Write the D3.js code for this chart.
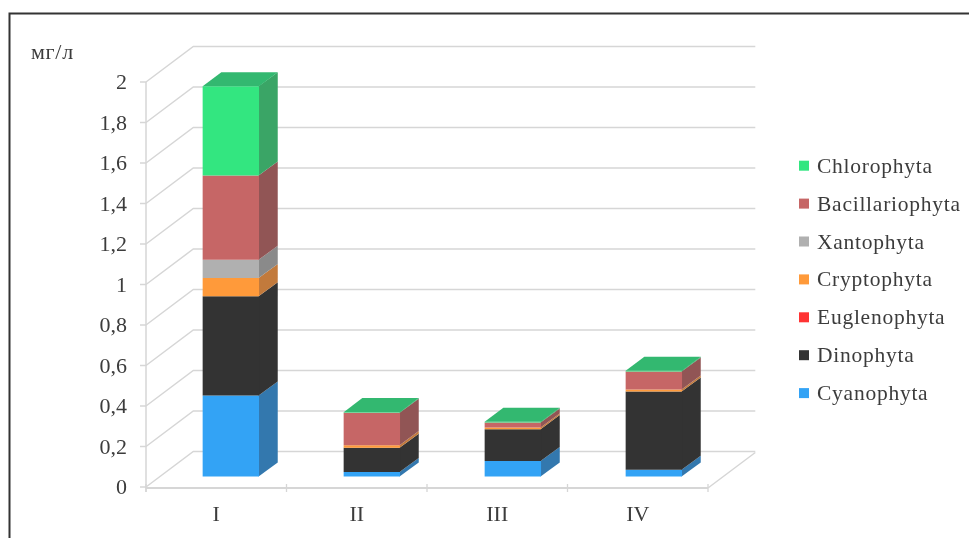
<!DOCTYPE html>
<html><head><meta charset="utf-8">
<script src="https://cdnjs.cloudflare.com/ajax/libs/d3/7.8.5/d3.min.js"></script>
<style>html,body{margin:0;padding:0;background:#fff;overflow:hidden}svg{display:block;filter:blur(0.45px)}text{font-family:"Liberation Serif",serif;fill:#3c3c3c}</style>
</head><body><svg id="c" width="969" height="538"></svg>
<script>
const categories=["I","II","III","IV"];
const yTicks=[0,0.2,0.4,0.6,0.8,1,1.2,1.4,1.6,1.8,2];
const Cyanophyta=[0.40,0.022,0.077,0.033];
const Dinophyta=[0.49,0.12,0.157,0.387];
const Euglenophyta=[0,0,0,0];
const Cryptophyta=[0.09,0.013,0.008,0.01];
const Xantophyta=[0.09,0,0,0];
const Bacillariophyta=[0.417,0.16,0.025,0.089];
const Chlorophyta=[0.44,0.003,0.003,0.003];
const seriesNames=["Cyanophyta","Dinophyta","Euglenophyta","Cryptophyta","Xantophyta","Bacillariophyta","Chlorophyta"];
const seriesValues=[Cyanophyta,Dinophyta,Euglenophyta,Cryptophyta,Xantophyta,Bacillariophyta,Chlorophyta];
const frontColors=["#33a3f5","#333333","#ff3333","#ff9a3a","#b0b0b0","#c66666","#33e680"];
const sideColors=["#3378ae","#333333","#b82c2c","#c27a3c","#8a8a8a","#915555","#3aa566"];
const topColor="#33b870";

const svg=d3.select("#c");
const y=d3.scaleLinear().domain([0,2]).range([487,82]);
const x=d3.scaleBand().domain(categories).range([146,708]);
const barX=d3.scaleBand().domain(categories).range([146.4,710.4]).paddingInner(0.6).paddingOuter(0.3);
const DX=47.3,DY=35.5,D0=0.295,D1=0.69;
const P=(px,v,d)=>[px+d*DX,y(v)-d*DY];
const line=d3.line();
const grid="#d6d6d6";

// frame
svg.append("path").attr("d","M9.5,538V13.5H969").attr("fill","none").attr("stroke","#333").attr("stroke-width",2);

// walls
yTicks.forEach(t=>{
  svg.append("path").attr("d",line([[146,y(t)],[146+DX,y(t)-DY],[146+DX+(708-146),y(t)-DY]]))
    .attr("fill","none").attr("stroke",grid).attr("stroke-width",1.5);
  svg.append("line").attr("x1",140).attr("x2",146).attr("y1",y(t)).attr("y2",y(t)).attr("stroke",grid).attr("stroke-width",1.5);
  svg.append("text").attr("x",127).attr("y",y(t)+7).attr("text-anchor","end").attr("font-size",22).text(String(t).replace(".",","));
});
svg.append("path").attr("d",line([[708,488],[708+DX,488-DY]])).attr("fill","none").attr("stroke",grid).attr("stroke-width",1.5);
svg.append("line").attr("x1",146).attr("x2",146).attr("y1",y(2)).attr("y2",492).attr("stroke",grid).attr("stroke-width",1.5);
svg.append("line").attr("x1",146).attr("x2",708).attr("y1",488).attr("y2",488).attr("stroke",grid).attr("stroke-width",1.8);
[146,...categories.map(c=>x(c)+x.bandwidth())].forEach(p=>svg.append("line").attr("x1",p).attr("x2",p).attr("y1",484).attr("y2",492).attr("stroke",grid).attr("stroke-width",1.3));

// bars
categories.forEach((c,i)=>{
  let acc=0;
  const L=barX(c),R=L+barX.bandwidth();
  seriesValues.forEach((vals,s)=>{
    const v=vals[i]; if(v<=0) return;
    const a=acc,b=acc+v; acc=b;
    svg.append("path").attr("fill",sideColors[s]).attr("d",line([P(R-0.5,a,D0),P(R,a,D1),P(R,b,D1),P(R-0.5,b,D0)])+"Z");
    svg.append("path").attr("fill",frontColors[s]).attr("d",line([P(L,a,D0),P(R,a,D0),P(R,b,D0),P(L,b,D0)])+"Z");
  });
  svg.append("path").attr("fill",topColor).attr("d",line([P(L,acc,D0),P(R,acc,D0),P(R,acc,D1),P(L,acc,D1)])+"Z");
  svg.append("text").attr("x",x(c)+x.bandwidth()/2).attr("y",521).attr("text-anchor","middle").attr("font-size",22).text(c);
});

svg.append("text").attr("x",31).attr("y",59).attr("font-size",22).attr("letter-spacing",0.7).text("мг/л");

// legend
const legendOrder=d3.range(seriesNames.length).reverse();
legendOrder.forEach((s,k)=>{
  const ly=165.7+k*37.9;
  svg.append("rect").attr("x",799).attr("y",ly-5).attr("width",10).attr("height",10).attr("fill",frontColors[s]);
  svg.append("text").attr("x",817).attr("y",ly+7).attr("font-size",21.5).attr("letter-spacing",0.75).text(seriesNames[s]);
});
</script></body></html>
